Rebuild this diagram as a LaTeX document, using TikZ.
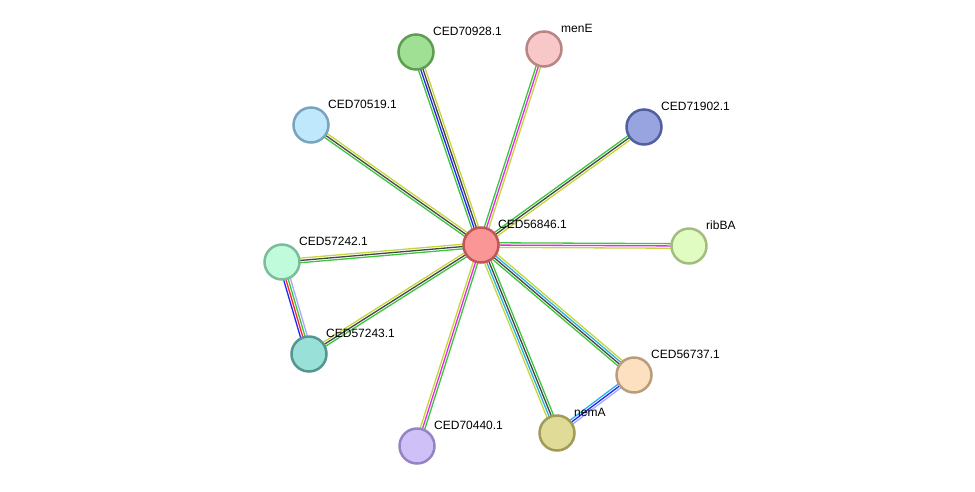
\documentclass[tikz,border=0pt]{standalone}
\usepackage{fontspec}
\setmainfont{Liberation Sans}
\usetikzlibrary{calc,backgrounds}

% evidence colours
\definecolor{evgreen}{HTML}{3CC63C}
\definecolor{evblue}{HTML}{2424F8}
\definecolor{evdark}{HTML}{454545}
\definecolor{evyellow}{HTML}{C4D63A}
\definecolor{evmagenta}{HTML}{E828E8}
\definecolor{evcyan}{HTML}{28B4E0}
\definecolor{evred}{HTML}{F82828}
\definecolor{evlav}{HTML}{A8A8FF}

% node colours (fill / line)
\definecolor{hubfill}{HTML}{FA9696}\definecolor{hubline}{HTML}{C25656}
\definecolor{aFill}{HTML}{A0E094}\definecolor{aLine}{HTML}{5E9E52}
\definecolor{bFill}{HTML}{F8C8C8}\definecolor{bLine}{HTML}{B88484}
\definecolor{cFill}{HTML}{98A4E0}\definecolor{cLine}{HTML}{50609E}
\definecolor{dFill}{HTML}{C0E8FC}\definecolor{dLine}{HTML}{78A4BC}
\definecolor{eFill}{HTML}{E0FCC0}\definecolor{eLine}{HTML}{A4BC80}
\definecolor{fFill}{HTML}{C0FCDC}\definecolor{fLine}{HTML}{7CBC9C}
\definecolor{gFill}{HTML}{98E0D8}\definecolor{gLine}{HTML}{54968E}
\definecolor{hFill}{HTML}{FDE0C0}\definecolor{hLine}{HTML}{B89C7C}
\definecolor{iFill}{HTML}{E0DC98}\definecolor{iLine}{HTML}{A09C58}
\definecolor{jFill}{HTML}{D0C0F8}\definecolor{jLine}{HTML}{9484C4}

% parallel strands between two nodes, listed left to right
\newcommand{\link}[3]{%
  \foreach \c [count=\n] in {#3} {\xdef\nlines{\n}}%
  \foreach \c [count=\i] in {#3} {%
    \pgfmathsetmacro{\off}{((\nlines+1)/2-\i)*2.3}%
    \draw[color=\c, line width=1.3pt]
      ($(#1.center)!\off pt!90:(#2.center)$) -- ($(#2.center)!\off pt!-90:(#1.center)$);
  }}

\begin{document}
\begin{tikzpicture}[x=1pt, y=-1pt,
  prot/.style 2 args={circle, fill=#1, draw=#2, line width=2.5pt,
    minimum size=35pt, inner sep=0pt},
  lbl/.style={anchor=west, xshift=17pt, yshift=21pt, inner sep=0pt,
    font=\fontsize{12}{14}\selectfont}]
  \useasboundingbox (0,0) rectangle (975,491);

  % proteins
  \node[prot={hubfill}{hubline}] (hub) at (481,245) {};
  \node[prot={aFill}{aLine}] (p70928) at (416,52) {};
  \node[prot={bFill}{bLine}] (menE) at (544,49) {};
  \node[prot={cFill}{cLine}] (p71902) at (644,127) {};
  \node[prot={dFill}{dLine}] (p70519) at (311,125) {};
  \node[prot={eFill}{eLine}] (ribBA) at (689,246) {};
  \node[prot={fFill}{fLine}] (p57242) at (282,262) {};
  \node[prot={gFill}{gLine}] (p57243) at (309,354) {};
  \node[prot={hFill}{hLine}] (p56737) at (634,375) {};
  \node[prot={iFill}{iLine}] (nemA) at (557,433) {};
  \node[prot={jFill}{jLine}] (p70440) at (417,446) {};

  % names
  \node[lbl] (hub-t) at (hub) {CED56846.1};
  \node[lbl] (p70928-t) at (p70928) {CED70928.1};
  \node[lbl] (menE-t) at (menE) {menE};
  \node[lbl] (p71902-t) at (p71902) {CED71902.1};
  \node[lbl] (p70519-t) at (p70519) {CED70519.1};
  \node[lbl] (ribBA-t) at (ribBA) {ribBA};
  \node[lbl] (p57242-t) at (p57242) {CED57242.1};
  \node[lbl] (p57243-t) at (p57243) {CED57243.1};
  \node[lbl] (p56737-t) at (p56737) {CED56737.1};
  \node[lbl] (nemA-t) at (nemA) {nemA};
  \node[lbl] (p70440-t) at (p70440) {CED70440.1};

  % links
  \begin{pgfonlayer}{background}
    \link{hub}{p70928}{evgreen,evblue,evdark,evyellow}
    \link{hub}{menE}{evgreen,evmagenta,evyellow}
    \link{hub}{p71902}{evgreen,evdark,evyellow}
    \link{hub}{p70519}{evgreen,evdark,evyellow}
    \link{hub}{ribBA}{evgreen,evmagenta,evyellow}
    \link{hub}{p57242}{evgreen,evdark,evyellow}
    \link{hub}{p57243}{evgreen,evdark,evyellow}
    \link{hub}{p70440}{evgreen,evmagenta,evyellow}
    \link{hub}{nemA}{evgreen,evdark,evcyan,evyellow}
    \link{hub}{p56737}{evyellow,evcyan,evdark,evgreen}
    \link{p57242}{p57243}{evlav,evgreen,evred,evblue}
    \link{p56737}{nemA}{evlav,evblue,evcyan}
  \end{pgfonlayer}
\end{tikzpicture}
\end{document}
